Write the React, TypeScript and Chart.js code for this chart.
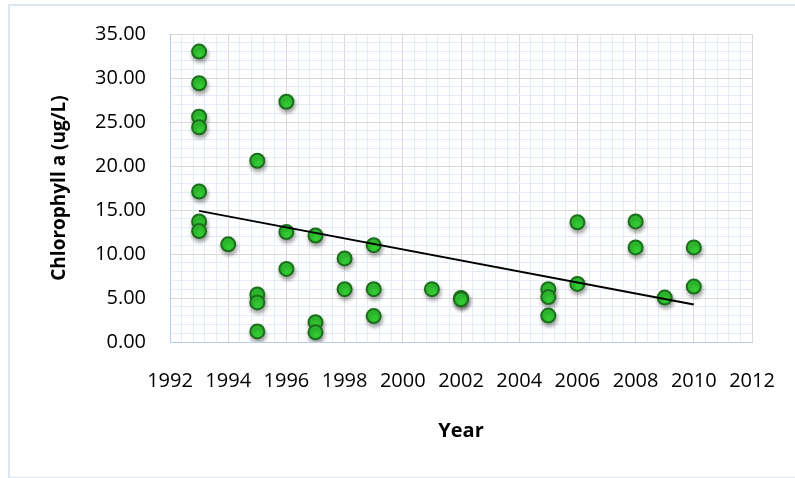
import React, { useEffect, useRef } from "react";
import { Chart, registerables } from "chart.js";

Chart.register(...registerables);

// Data
const years: number[] = [
  1993, 1993, 1993, 1993, 1993, 1993, 1993,
  1994,
  1995, 1995, 1995, 1995,
  1996, 1996, 1996,
  1997, 1997, 1997,
  1998, 1998,
  1999, 1999, 1999,
  2001,
  2002, 2002,
  2005, 2005, 2005,
  2006, 2006,
  2008, 2008,
  2009,
  2010, 2010,
];
const chlorophyll: number[] = [
  33.0, 29.4, 25.6, 24.4, 17.1, 13.7, 12.6,
  11.1,
  20.6, 5.4, 4.5, 1.2,
  27.3, 12.5, 8.3,
  12.1, 2.25, 1.1,
  9.5, 6.0,
  11.0, 6.0, 2.95,
  6.0,
  5.0, 4.85,
  6.0, 5.1, 3.0,
  13.6, 6.6,
  13.7, 10.75,
  5.05,
  10.75, 6.3,
];
// Linear trend line end points
const trendYears: number[] = [1993, 2010];
const trendValues: number[] = [14.9, 4.25];

const xTickLabels: number[] = [1992, 1994, 1996, 1998, 2000, 2002, 2004, 2006, 2008, 2010, 2012];
const yTickLabels: number[] = [0, 5, 10, 15, 20, 25, 30, 35];

const X_MIN = 1992;
const X_MAX = 2012;
const X_MINOR = 0.4;
const Y_MIN = 0;
const Y_MAX = 35;
const Y_MINOR = 1;

const MAJOR_GRID = "#d9d9d9";
const MINOR_GRID = "#e3ecf7";
const AXIS_LINE = "#b4cdeb";

const isXMajor = (v: number) => xTickLabels.some((t) => Math.abs(t - v) < 1e-6);
const isYMajor = (v: number) => yTickLabels.some((t) => Math.abs(t - v) < 1e-6);

const shadowPlugin = {
  id: "pointShadow",
  beforeDatasetDraw(chart: any, args: any) {
    if (args.index === 1) {
      const ctx = chart.ctx;
      ctx.save();
      ctx.shadowColor = "rgba(0,0,0,0.35)";
      ctx.shadowBlur = 4;
      ctx.shadowOffsetX = 1;
      ctx.shadowOffsetY = 3;
    }
  },
  afterDatasetDraw(chart: any, args: any) {
    if (args.index === 1) {
      chart.ctx.restore();
    }
  },
};

export default function App() {
  const ref = useRef<HTMLCanvasElement | null>(null);

  useEffect(() => {
    if (!ref.current) return;
    const points = years.map((x, i) => ({ x, y: chlorophyll[i] }));
    const trend = trendYears.map((x, i) => ({ x, y: trendValues[i] }));
    const font = "'Open Sans', 'Liberation Sans', sans-serif";

    const chart = new Chart(ref.current, {
      type: "scatter",
      data: {
        datasets: [
          {
            type: "line",
            label: "Trend",
            data: trend,
            borderColor: "#000000",
            borderWidth: 2,
            pointRadius: 0,
            fill: false,
          } as any,
          {
            label: "Chlorophyll a",
            data: points,
            backgroundColor: "#33cc33",
            borderColor: "#1b6e1b",
            borderWidth: 2,
            pointRadius: 7,
          },
        ],
      },
      plugins: [shadowPlugin],
      options: {
        animation: false,
        responsive: false,
        layout: { padding: { top: 34, right: 43, bottom: 0, left: 0 } },
        plugins: {
          legend: { display: false },
          tooltip: { enabled: false },
        },
        scales: {
          x: {
            type: "linear",
            min: X_MIN,
            max: X_MAX,
            afterBuildTicks: (scale: any) => {
              const n = Math.round((X_MAX - X_MIN) / X_MINOR);
              const t = [];
              for (let i = 0; i <= n; i++) t.push({ value: Math.round((X_MIN + i * X_MINOR) * 10) / 10 });
              scale.ticks = t;
            },
            afterFit: (scale: any) => {
              scale.height = 136;
              scale.paddingLeft = 0;
              scale.paddingRight = 0;
            },
            ticks: {
              autoSkip: false,
              maxRotation: 0,
              minRotation: 0,
              padding: 27,
              color: "#000000",
              font: { family: font, size: 20 },
              callback: (v: any) => (isXMajor(Number(v)) ? String(Math.round(Number(v))) : ""),
            },
            grid: {
              drawTicks: false,
              lineWidth: 1,
              color: (ctx: any) => (ctx.tick && isXMajor(ctx.tick.value) ? MAJOR_GRID : MINOR_GRID),
            },
            border: { display: true, color: AXIS_LINE, width: 1 },
            title: {
              display: true,
              text: "Year",
              color: "#000000",
              font: { family: font, size: 20, weight: "bold" },
              padding: { top: 0, bottom: 35 },
            },
          },
          y: {
            type: "linear",
            min: Y_MIN,
            max: Y_MAX,
            afterBuildTicks: (scale: any) => {
              const t = [];
              for (let v = Y_MIN; v <= Y_MAX; v += Y_MINOR) t.push({ value: v });
              scale.ticks = t;
            },
            afterFit: (scale: any) => {
              scale.width = 170;
              scale.paddingTop = 0;
              scale.paddingBottom = 0;
            },
            ticks: {
              autoSkip: false,
              padding: 24,
              color: "#000000",
              font: { family: font, size: 20 },
              callback: (v: any) => (isYMajor(Number(v)) ? Number(v).toFixed(2) : ""),
            },
            grid: {
              drawTicks: false,
              lineWidth: 1,
              color: (ctx: any) => (ctx.tick && isYMajor(ctx.tick.value) ? MAJOR_GRID : MINOR_GRID),
            },
            border: { display: true, color: AXIS_LINE, width: 1 },
            title: {
              display: true,
              text: "Chlorophyll a (ug/L)",
              color: "#000000",
              font: { family: font, size: 19, weight: "bold" },
              padding: { top: 48, bottom: 0 },
            },
          },
        },
      },
    });
    return () => chart.destroy();
  }, []);

  return (
    <div style={{ position: "fixed", left: 0, top: 0, width: 795, height: 478, background: "#ffffff", overflow: "hidden" }}>
      <div
        style={{
          position: "absolute",
          left: 8,
          top: 4,
          width: 800,
          height: 471,
          border: "2px solid #dde6f2",
        }}
      />
      <canvas ref={ref} width={795} height={478} style={{ position: "absolute", left: 0, top: 0, width: 795, height: 478 }} />
    </div>
  );
}
